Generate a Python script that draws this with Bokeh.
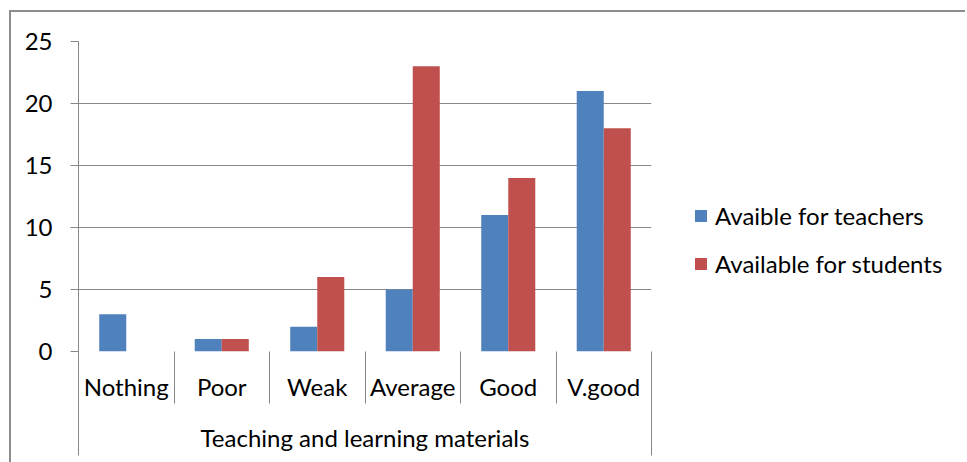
from bokeh.plotting import figure
from bokeh.models import (FactorRange, Range1d, LinearAxis, CategoricalAxis, FixedTicker,
                          Legend, LegendItem, InlineStyleSheet, ColumnDataSource)
from bokeh.transform import dodge
from bokeh.embed import file_html
from bokeh.resources import INLINE

# ---- data ----
categories = ["Nothing", "Poor", "Weak", "Average", "Good", "V.good"]
teachers = [3, 1, 2, 5, 11, 21]
students = [0, 1, 6, 23, 14, 18]
y_ticks = [0, 5, 10, 15, 20, 25]
series_names = ["Avaible for teachers", "Available for students"]
group_label = "Teaching and learning materials"

FONT = "Lato"
FS = "24px"
GRAY = "#878787"
BLUE = "#4F81BD"
RED = "#C0504D"

W, H = 956, 450
FL, FT, FR, FB = 67, 29, 640, 339

source = ColumnDataSource(dict(cat=categories, teachers=teachers, students=students))

p = figure(x_range=FactorRange(*categories), y_range=Range1d(0, 25),
           width=None, height=None, frame_width=FR - FL, frame_height=FB - FT,
           output_backend="svg", toolbar_location=None,
           x_axis_location=None, y_axis_location="left",
           min_border_left=FL, min_border_top=FT, min_border_right=W - FR,
           min_border_bottom=H - FB)
p.outline_line_color = None
p.background_fill_color = "white"
p.border_fill_color = "white"

bw = 0.283
r1 = p.vbar(x=dodge("cat", -bw / 2, range=p.x_range), top="teachers", width=bw,
            source=source, fill_color=BLUE, line_color=None)
r2 = p.vbar(x=dodge("cat", bw / 2, range=p.x_range), top="students", width=bw,
            source=source, fill_color=RED, line_color=None)

# y axis
ya = p.yaxis[0]
ya.ticker = FixedTicker(ticks=y_ticks)
ya.axis_line_color = GRAY
ya.major_tick_line_color = GRAY
ya.major_tick_out = 8
ya.major_tick_in = 0
ya.minor_tick_line_color = None
ya.major_label_standoff = 18
ya.major_label_text_font = FONT
ya.major_label_text_font_size = FS
ya.major_label_text_color = "black"

p.xgrid.grid_line_color = None
p.ygrid.grid_line_color = GRAY
p.ygrid.ticker = FixedTicker(ticks=y_ticks)

# category boundaries in the synthetic coordinates of the factor range
n = len(categories)
inner_bounds = list(range(1, n))
outer_bounds = [0, n]

# separator lines of the category area (drawn outward, taking no panel space)
sep_axis = LinearAxis(ticker=FixedTicker(ticks=outer_bounds, minor_ticks=inner_bounds),
                      axis_line_color=None,
                      major_tick_line_color=GRAY, major_tick_out=0, major_tick_in=-104,
                      minor_tick_line_color=GRAY, minor_tick_out=0, minor_tick_in=-52,
                      major_label_overrides={0: "", n: ""},
                      major_label_standoff=0,
                      major_label_text_font_size="0px")
p.add_layout(sep_axis, "below")

# category labels and group label
cat_axis = CategoricalAxis(axis_line_color=None, major_tick_line_color=None,
                           major_tick_out=0, major_tick_in=0,
                           major_label_standoff=20,
                           major_label_text_font=FONT, major_label_text_font_size=FS,
                           major_label_text_color="black",
                           axis_label=group_label, axis_label_standoff=19,
                           axis_label_text_font=FONT, axis_label_text_font_size=FS,
                           axis_label_text_font_style="normal",
                           axis_label_text_color="black")
p.add_layout(cat_axis, "below")

legend = Legend(items=[LegendItem(label=series_names[0], renderers=[r1]),
                       LegendItem(label=series_names[1], renderers=[r2])],
                location=(42, 73), orientation="vertical",
                glyph_width=15, glyph_height=15, label_standoff=7,
                spacing=19, padding=0, margin=0,
                border_line_color=None, background_fill_alpha=0,
                label_text_font=FONT, label_text_font_size=FS, label_text_color="black")
p.add_layout(legend, "right")

p.stylesheets = [InlineStyleSheet(css=":host { border-top: 2px solid #8c8c8c; border-left: 2px solid #8c8c8c; margin-left: 9px; margin-top: 10px; max-width: 956px; overflow: hidden; }")]

open("out.html", "w").write(file_html(p, INLINE))
